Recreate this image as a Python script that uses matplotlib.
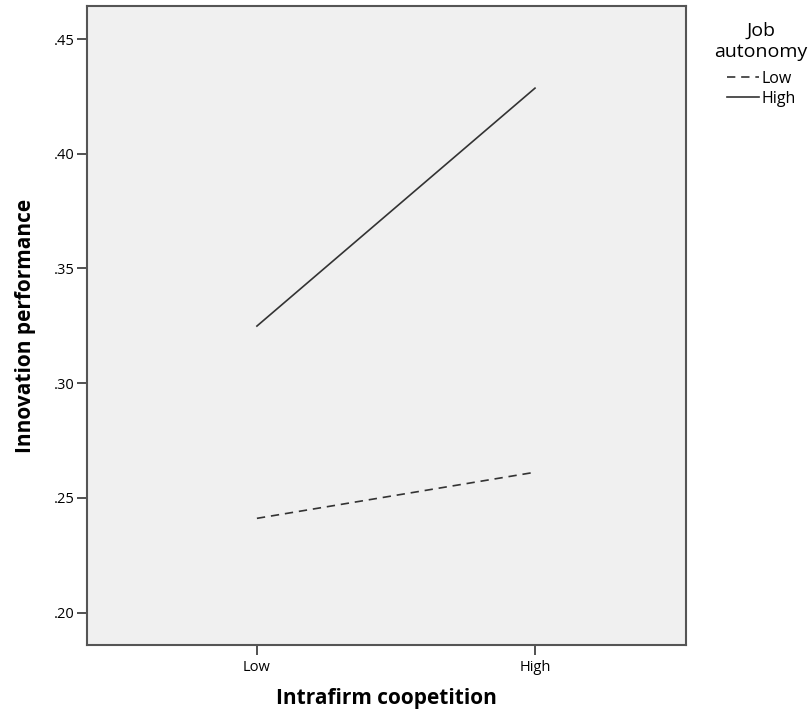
import matplotlib
matplotlib.use("Agg")
import matplotlib.pyplot as plt

categories = ["Low", "High"]
low_autonomy = [0.2411, 0.2612]
high_autonomy = [0.3249, 0.4286]
yticks = [0.20, 0.25, 0.30, 0.35, 0.40, 0.45]
ytick_labels = [".20", ".25", ".30", ".35", ".40", ".45"]

plt.rcParams['font.family'] = ['Open Sans', 'DejaVu Sans']

fig = plt.figure(figsize=(8.12, 7.17), dpi=100)
ax = fig.add_axes([87/812, 1-645/717, (686-87)/812, (645-6)/717])
ax.set_facecolor('#f0f0f0')

x = list(range(len(categories)))
l1, = ax.plot(x, low_autonomy, color='#333333', lw=1.2, ls=(0, (5, 3.5)), label='Low')
l2, = ax.plot(x, high_autonomy, color='#333333', lw=1.2, ls='-', label='High')

ax.set_xlim(-0.611, 1.543)
ax.set_ylim(0.1859, 0.4644)
ax.set_xticks(x)
ax.set_xticklabels(categories, fontsize=10.5)
ax.set_yticks(yticks)
ax.set_yticklabels(ytick_labels, fontsize=10.5)
ax.tick_params(axis='both', length=7, width=1.2, color='#333333', pad=2)
ax.tick_params(axis='x', pad=4)
for s in ax.spines.values():
    s.set_color('#555555')
    s.set_linewidth(1.5)

ax.set_xlabel('Intrafirm coopetition', fontsize=15, fontweight='bold', labelpad=9)
ax.set_ylabel('Innovation performance', fontsize=15, fontweight='bold', labelpad=13)

leg = fig.legend(handles=[l1, l2], labels=['Low', 'High'], title='Job\nautonomy',
                 loc='upper center', bbox_to_anchor=(761/812, 1-14/717), frameon=False,
                 fontsize=11.5, title_fontsize=14, handlelength=2.0, handletextpad=0.15,
                 labelspacing=0.25, borderpad=0)
leg._legend_box.align = 'center'
leg.get_title().set_multialignment('center')
leg._legend_box.sep = 7

fig.savefig('out.png', dpi=100)
